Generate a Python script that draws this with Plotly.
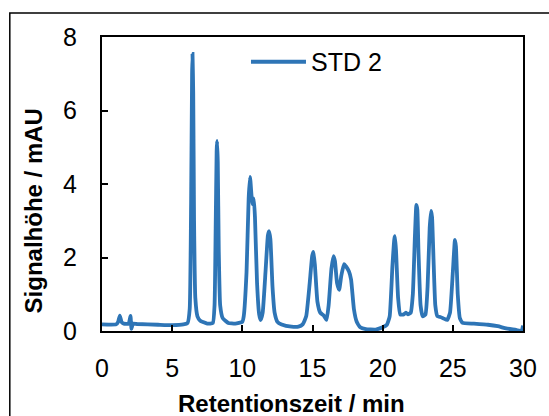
import plotly.graph_objects as go

# Retention time (min) and signal height (mAU)
time_min = [0.0, 1.0, 1.15, 1.27, 1.4, 1.55, 1.9, 2.03, 2.1, 2.2, 2.5, 4.0, 5.0, 5.8,
            6.1, 6.25, 6.35, 6.42, 6.45, 6.5, 6.56, 6.65, 6.8, 7.0, 7.5,
            7.9, 8.02, 8.1, 8.17, 8.2, 8.25, 8.32, 8.42, 8.6, 9.0, 9.5, 10.0,
            10.1, 10.3, 10.45, 10.55, 10.65, 10.72, 10.82, 10.9, 11.05, 11.2, 11.3,
            11.45, 11.65, 11.82, 11.9, 12.0, 12.15, 12.3, 12.5, 12.8, 13.5, 14.0,
            14.3, 14.55, 14.8, 14.98, 15.07, 15.17, 15.35, 15.55, 15.8, 16.0,
            16.15, 16.35, 16.5, 16.6, 16.75, 16.9, 17.05, 17.25, 17.4, 17.6, 17.75,
            17.95, 18.15, 18.4, 18.8, 19.5, 20.0, 20.3,
            20.5, 20.7, 20.83, 20.87, 20.95, 21.1, 21.25, 21.5, 21.65, 21.8, 22.0,
            22.15, 22.3, 22.4, 22.47, 22.55, 22.7, 22.85, 23.05,
            23.2, 23.35, 23.45, 23.52, 23.62, 23.75, 23.9, 24.1, 24.3, 24.6,
            24.8, 25.0, 25.15, 25.22, 25.35, 25.5, 25.7, 26.5, 27.5, 28.2, 28.8,
            29.5, 29.9, 30.0]
signal_mau = [0.18, 0.18, 0.25, 0.42, 0.24, 0.2, 0.2, 0.41, 0.06, 0.2, 0.19, 0.17, 0.16, 0.18,
              0.22, 0.6, 3.5, 7.0, 7.54, 6.5, 3.0, 0.9, 0.4, 0.28, 0.2,
              0.22, 0.7, 2.8, 4.9, 5.17, 4.6, 2.2, 0.7, 0.35, 0.22, 0.2, 0.25,
              0.4, 1.6, 3.6, 4.19, 3.7, 3.45, 3.6, 3.1, 1.3, 0.45, 0.3,
              0.5, 1.6, 2.6, 2.72, 2.5, 1.2, 0.5, 0.25, 0.18, 0.12, 0.12,
              0.18, 0.4, 1.3, 2.05, 2.15, 1.8, 0.8, 0.5, 0.42, 0.3,
              0.7, 1.7, 2.04, 1.9, 1.3, 1.12, 1.5, 1.82, 1.75, 1.62, 1.4,
              0.6, 0.25, 0.1, 0.05, 0.04, 0.1, 0.17,
              0.4, 1.8, 2.5, 2.58, 2.2, 0.9, 0.45, 0.45, 0.5, 0.45, 0.5,
              1.0, 2.6, 3.43, 3.3, 2.2, 0.7, 0.4, 0.45,
              1.2, 2.8, 3.27, 3.1, 2.0, 0.7, 0.4, 0.38, 0.35, 0.3,
              0.5, 1.6, 2.48, 2.3, 1.0, 0.35, 0.22, 0.2, 0.17, 0.13, 0.07,
              0.03, 0.0, 0.15]

series_name = "STD 2"
x_title = "Retentionszeit / min"
y_title = "Signalhöhe / mAU"
x_ticks = [0, 5, 10, 15, 20, 25, 30]
y_ticks = [0, 2, 4, 6, 8]

fig = go.Figure()
fig.add_trace(go.Scatter(
    x=time_min, y=signal_mau, mode="lines", name=series_name,
    line=dict(color="#2E75B6", width=3.8, shape="spline", smoothing=0.4),
    showlegend=True,
))

FONT = "Liberation Sans, Arial"
axis_font = dict(family=FONT, size=25, color="#000")
title_font = dict(family=FONT, size=24, color="#000")

fig.update_layout(
    width=549, height=416,
    margin=dict(l=102, r=23, t=37, b=85),
    paper_bgcolor="white", plot_bgcolor="white",
    showlegend=True,
    legend=dict(x=0.342, y=0.915, xanchor="left", yanchor="middle",
                font=dict(family=FONT, size=25, color="#000"),
                bgcolor="rgba(0,0,0,0)", itemwidth=55),
    xaxis=dict(range=[0, 30], tickvals=x_ticks, ticks="inside", ticklen=6,
               tickwidth=1.5, tickcolor="#000", showline=True, linecolor="#000",
               linewidth=2, mirror=True, showgrid=False, zeroline=False,
               tickfont=axis_font, ticklabelstandoff=14),
    yaxis=dict(range=[0, 8], tickvals=y_ticks, ticks="inside", ticklen=6,
               tickwidth=1.5, tickcolor="#000", showline=True, linecolor="#000",
               linewidth=2, mirror=True, showgrid=False, zeroline=False,
               tickfont=axis_font, ticklabelstandoff=18),
    annotations=[
        dict(text="<b>" + x_title + "</b>", xref="paper", yref="paper",
             x=0.45, y=-0.245, xanchor="center", yanchor="middle",
             showarrow=False, font=title_font),
        dict(text="<b>" + y_title + "</b>", xref="paper", yref="paper",
             x=-0.163, y=0.408, xanchor="center", yanchor="middle",
             textangle=-90, showarrow=False, font=title_font),
    ],
    shapes=[dict(type="rect", xref="paper", yref="paper",
                 x0=-0.219, x1=1.2, y0=-0.4, y1=1.0816,
                 line=dict(color="#000", width=1.5), layer="above")],
)

fig.write_html("out.html")
